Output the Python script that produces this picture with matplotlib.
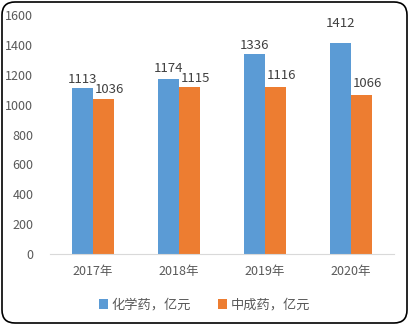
import matplotlib
matplotlib.use("Agg")
import matplotlib.pyplot as plt
import numpy as np
from matplotlib.patches import FancyBboxPatch

plt.rcParams['font.family'] = ['Noto Sans CJK SC', 'DejaVu Sans']

categories = ['2017年', '2018年', '2019年', '2020年']
chem = [1113, 1174, 1336, 1412]
tcm = [1036, 1115, 1116, 1066]
series_names = ['化学药，亿元', '中成药，亿元']
yticks = [0, 200, 400, 600, 800, 1000, 1200, 1400, 1600]

blue = '#5B9BD5'
orange = '#ED7D31'
text_col = '#595959'

fig = plt.figure(figsize=(4.09, 3.25), dpi=100)
ax = fig.add_axes([50/409, 71/325, 344/409, 239/325])

x = np.arange(len(categories))
w = 0.245
b1 = ax.bar(x - w/2, chem, w, color=blue, label=series_names[0])
b2 = ax.bar(x + w/2, tcm, w, color=orange, label=series_names[1])

# value labels; small nudges (points) keep neighbouring labels apart
chem_nudge = [(0, 1.5), (0, 2.5), (0, 1.5), (0, 9.5)]
tcm_nudge = [(4.5, 2), (4.5, 2), (4.5, 3.5), (4.5, 3.5)]
for bars, vals, nudges in ((b1, chem, chem_nudge), (b2, tcm, tcm_nudge)):
    for r, v, (dx, dy) in zip(bars, vals, nudges):
        ax.annotate(str(v), (r.get_x() + r.get_width()/2, v), xytext=(dx, dy),
                    textcoords='offset points', ha='center', va='bottom',
                    fontsize=9.5, color='#404040')

ax.set_xlim(-0.5, 3.5)
ax.set_ylim(0, 1600)
ax.set_yticks(yticks)
ax.set_xticks(x)
ax.set_xticklabels(categories)
ax.tick_params(axis='both', length=0, labelsize=9, colors=text_col)
ax.tick_params(axis='y', pad=12)
ax.tick_params(axis='x', pad=8)
for s in ['top', 'right', 'left']:
    ax.spines[s].set_visible(False)
ax.spines['bottom'].set_color('#D9D9D9')

leg = fig.legend(handles=[b1, b2], loc='center', bbox_to_anchor=(0.5, 20/325),
                 ncol=2, frameon=False, fontsize=9.5, handlelength=0.7,
                 handleheight=0.7, handletextpad=0.3, columnspacing=2.0)
for t in leg.get_texts():
    t.set_color(text_col)

# rounded outer frame, sized in inches so the corners stay circular
border = FancyBboxPatch((0.02, 0.02), 4.05, 3.21,
                        boxstyle='round,pad=0,rounding_size=0.13',
                        transform=fig.dpi_scale_trans, fill=False,
                        edgecolor='black', linewidth=1.2)
fig.patches.append(border)

fig.savefig('out.png', dpi=100)
